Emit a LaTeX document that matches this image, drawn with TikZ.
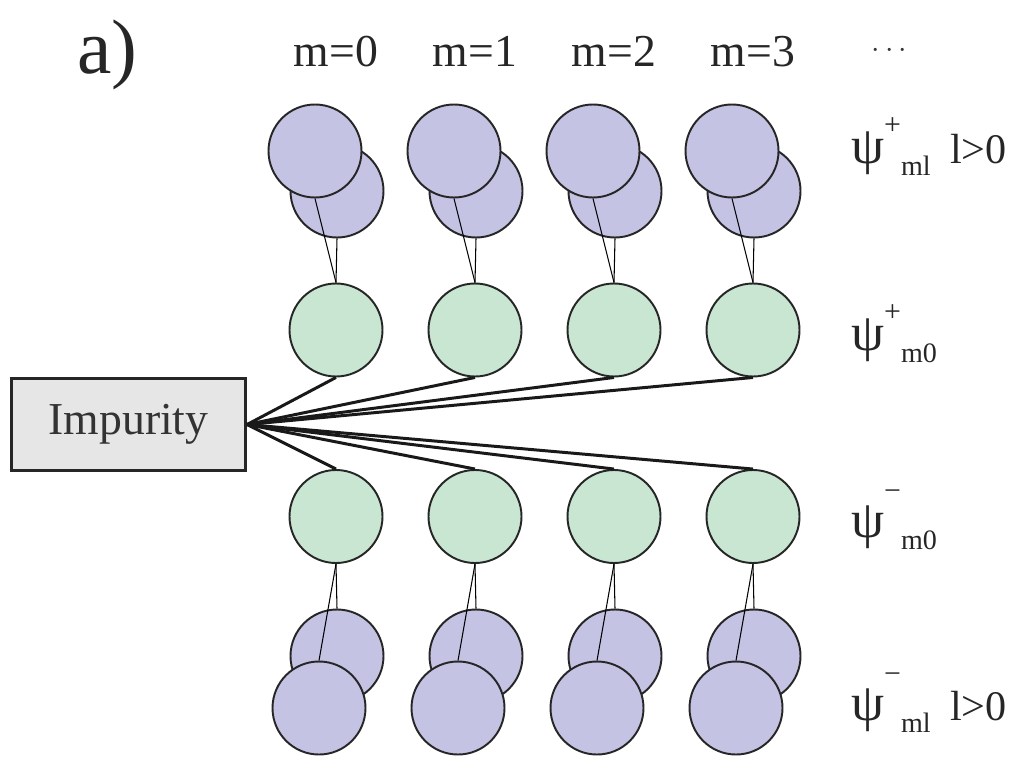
\documentclass[tikz,border=0pt]{standalone}
\usepackage{amsmath}
\usepackage{fontspec}
\setmainfont{Liberation Serif}
\usepackage{tikz}
\definecolor{modepurple}{RGB}{197, 195, 228}
\definecolor{modegreen}{RGB}{200, 230, 210}
\definecolor{impgray}{RGB}{230, 230, 230}
\tikzstyle{orbit} = [circle, draw=black!85, line width=1.1pt, minimum size=1.86cm, inner sep=0pt]
\tikzstyle{zeromode} = [orbit, fill=modegreen]
\tikzstyle{highmode} = [orbit, fill=modepurple]
\tikzstyle{imp} = [rectangle, draw=black!85, fill=impgray, line width=1.5pt, minimum width=4.69cm, minimum height=1.85cm, font=\fontsize{26}{30}\selectfont, text=black!80]
\tikzstyle{hyb} = [line width=1.7pt, black!90]
\tikzstyle{link} = [line width=0.6pt]
\tikzstyle{collab} = [anchor=base, font=\fontsize{26}{30}\selectfont, text=black!85]
\tikzstyle{rowlab} = [anchor=base west, font=\fontsize{24}{28}\selectfont, text=black!85]
\newcommand{\psilab}[3]{{\fontsize{30}{32}\selectfont ψ}\raisebox{#1}{\fontsize{17}{18}\selectfont #2}\raisebox{-7pt}{\fontsize{16}{18}\selectfont #3}}

\begin{document}
\begin{tikzpicture}
    \useasboundingbox (0,0) rectangle (20.38,15.14);
    % Header
    \node[anchor=base west, font=\fontsize{44}{50}\selectfont, text=black!85] (tag) at (1.42, 13.68) {a)};
    \node[collab] (m0) at (6.72, 13.8) {m=0};
    \node[collab] (m1) at (9.50, 13.8) {m=1};
    \node[collab] (m2) at (12.28, 13.8) {m=2};
    \node[collab] (m3) at (15.06, 13.8) {m=3};
    \node[font=\fontsize{19}{20}\selectfont, text=black!80] (mdots) at (17.84, 14.12) {$\cdots$};

    % Impurity
    \node[imp] (imp) at (2.57, 6.65) {Impurity};

    % Upper branch, l>0
    \node[highmode] (upa0) at (6.74, 11.32) {};
    \node[highmode] (upb0) at (6.30, 12.12) {};
    \node[highmode] (upa1) at (9.52, 11.32) {};
    \node[highmode] (upb1) at (9.08, 12.12) {};
    \node[highmode] (upa2) at (12.30, 11.32) {};
    \node[highmode] (upb2) at (11.86, 12.12) {};
    \node[highmode] (upa3) at (15.08, 11.32) {};
    \node[highmode] (upb3) at (14.64, 12.12) {};

    % Upper branch, l=0
    \node[zeromode] (up0) at (6.72, 8.54) {};
    \node[zeromode] (up1) at (9.50, 8.54) {};
    \node[zeromode] (up2) at (12.28, 8.54) {};
    \node[zeromode] (up3) at (15.06, 8.54) {};

    % Lower branch, l=0
    \node[zeromode] (dn0) at (6.72, 4.81) {};
    \node[zeromode] (dn1) at (9.50, 4.81) {};
    \node[zeromode] (dn2) at (12.28, 4.81) {};
    \node[zeromode] (dn3) at (15.06, 4.81) {};

    % Lower branch, l>0
    \node[highmode] (dna0) at (6.74, 2.02) {};
    \node[highmode] (dnb0) at (6.38, 0.98) {};
    \node[highmode] (dna1) at (9.52, 2.02) {};
    \node[highmode] (dnb1) at (9.16, 0.98) {};
    \node[highmode] (dna2) at (12.30, 2.02) {};
    \node[highmode] (dnb2) at (11.94, 0.98) {};
    \node[highmode] (dna3) at (15.08, 2.02) {};
    \node[highmode] (dnb3) at (14.72, 0.98) {};

    % Couplings between l=0 and l>0
    \draw[link] (upb0.south) -- (up0.north);
    \draw[link] (upa0.south) -- (up0.north);
    \draw[link] (upb1.south) -- (up1.north);
    \draw[link] (upa1.south) -- (up1.north);
    \draw[link] (upb2.south) -- (up2.north);
    \draw[link] (upa2.south) -- (up2.north);
    \draw[link] (upb3.south) -- (up3.north);
    \draw[link] (upa3.south) -- (up3.north);
    \draw[link] (dn0.south) -- (dna0.north);
    \draw[link] (dn0.south) -- (dnb0.north);
    \draw[link] (dn1.south) -- (dna1.north);
    \draw[link] (dn1.south) -- (dnb1.north);
    \draw[link] (dn2.south) -- (dna2.north);
    \draw[link] (dn2.south) -- (dnb2.north);
    \draw[link] (dn3.south) -- (dna3.north);
    \draw[link] (dn3.south) -- (dnb3.north);

    % Hybridization with the impurity
    \draw[hyb] (imp.east) -- (up0.south);
    \draw[hyb] (imp.east) -- (up1.south);
    \draw[hyb] (imp.east) -- (up2.south);
    \draw[hyb] (imp.east) -- (up3.south);
    \draw[hyb] (imp.east) -- (dn0.north);
    \draw[hyb] (imp.east) -- (dn1.north);
    \draw[hyb] (imp.east) -- (dn2.north);
    \draw[hyb] (imp.east) -- (dn3.north);

    % Row labels
    \node[rowlab] (lab1) at (16.9, 11.88) {\psilab{16pt}{+}{ml}\hspace{11pt}l>0};
    \node[rowlab] (lab2) at (16.9, 8.14) {\psilab{16pt}{+}{m0}};
    \node[rowlab] (lab3) at (16.9, 4.40) {\psilab{21pt}{−}{m0}};
    \node[rowlab] (lab4) at (16.9, 0.74) {\psilab{21pt}{−}{ml}\hspace{11pt}l>0};
\end{tikzpicture}
\end{document}
